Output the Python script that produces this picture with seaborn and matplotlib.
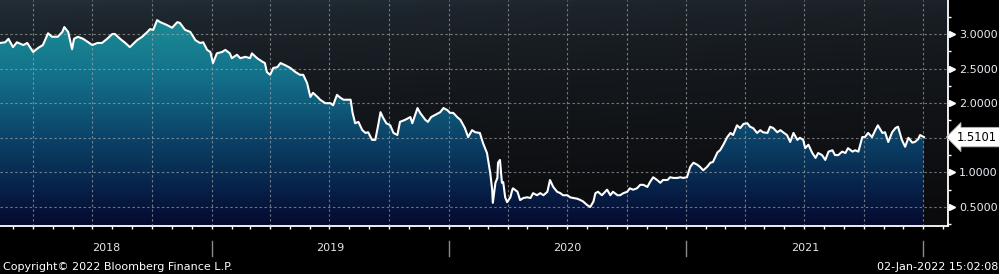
import numpy as np
import pandas as pd
import matplotlib
matplotlib.use("Agg")
import matplotlib.pyplot as plt
import matplotlib.dates as mdates
import matplotlib.transforms as mtransforms
from matplotlib.colors import LinearSegmentedColormap
import seaborn as sns

# ---------------- data (days after 2018-01-01, yield %) ----------------
day_offsets = [
    39, 47, 52, 59, 65, 75, 81, 90, 98, 105, 113, 119, 128, 135, 138, 144, 150, 153, 159, 167,
    175, 181, 189, 196, 204, 212, 216, 224, 232, 239, 250, 258, 266, 270, 275, 281, 286,
    296, 304, 312, 316, 324, 332, 340, 347, 352, 358, 363, 367, 373, 381, 386, 393, 396, 404,
    409, 417, 424, 427, 435, 443, 447, 450, 455, 460, 466, 471, 478, 486, 494, 501, 506, 512,
    517, 521, 528, 532,
    540, 548, 552, 558, 563, 568, 574, 579, 582, 586, 591, 597, 602, 606, 612, 617, 622, 625,
    629, 634, 640, 645, 651, 655, 663, 671, 674, 682, 686, 694, 698, 703, 709, 717, 722, 728,
    732, 737, 743, 748, 755, 760, 766, 771, 778,
    783, 789, 794, 797, 798, 802, 805, 806, 809, 812, 814, 817, 820, 825, 828, 829, 836, 840,
    845, 851, 856, 860, 866, 871, 876, 882, 886, 891, 897, 902, 906, 913, 917, 922, 928, 933,
    937, 943, 948, 953, 956, 960, 966, 971, 974, 979, 983, 990, 994, 999, 1005, 1009, 1014,
    1020, 1025,
    1030, 1036, 1040, 1045, 1051, 1056, 1060, 1067, 1071, 1076, 1082, 1087, 1091, 1097, 1102,
    1107, 1113, 1117, 1122, 1128, 1133, 1137, 1144, 1148, 1153, 1159, 1164, 1168, 1174, 1179,
    1184, 1190, 1194, 1199, 1205, 1210, 1214, 1221, 1225, 1230, 1236, 1241, 1245, 1251, 1256,
    1261, 1267, 1271,
    1276, 1279, 1284, 1290, 1295, 1299, 1305, 1310, 1315, 1321, 1325, 1330, 1336, 1341, 1345,
    1352, 1356, 1361, 1367, 1371, 1376, 1382, 1387, 1391, 1398, 1402, 1407, 1413, 1418, 1422,
    1428, 1433, 1438, 1444, 1448, 1453, 1456, 1462,
]
yields = [
    2.87, 2.88, 2.93, 2.81, 2.88, 2.84, 2.87, 2.74, 2.80, 2.84, 3.01, 2.96, 2.96, 3.03, 3.10, 3.03, 2.78, 2.93, 2.96, 2.93,
    2.88, 2.84, 2.87, 2.87, 2.93, 3.00, 3.00, 2.93, 2.87, 2.81, 2.91, 2.96, 3.03, 3.07, 3.06, 3.20, 3.17,
    3.13, 3.09, 3.17, 3.16, 3.06, 3.03, 2.91, 2.87, 2.88, 2.77, 2.74, 2.58, 2.72, 2.74, 2.77, 2.72, 2.65, 2.70,
    2.65, 2.67, 2.65, 2.72, 2.65, 2.60, 2.58, 2.45, 2.41, 2.51, 2.52, 2.58, 2.55, 2.51, 2.45, 2.41, 2.41, 2.29,
    2.09, 2.15, 2.09, 2.05,
    2.00, 2.00, 1.97, 2.12, 2.08, 2.05, 2.05, 2.05, 1.86, 1.71, 1.73, 1.61, 1.57, 1.58, 1.47, 1.47, 1.71, 1.87,
    1.79, 1.71, 1.68, 1.57, 1.54, 1.73, 1.76, 1.80, 1.71, 1.93, 1.86, 1.76, 1.73, 1.80, 1.83, 1.87, 1.93, 1.90,
    1.86, 1.86, 1.80, 1.76, 1.64, 1.51, 1.61, 1.58, 1.57,
    1.42, 1.28, 0.99, 0.75, 0.56, 0.85, 0.92, 1.14, 1.18, 0.85, 0.86, 0.64, 0.57, 0.64, 0.75, 0.77, 0.72, 0.60,
    0.63, 0.64, 0.63, 0.70, 0.67, 0.70, 0.67, 0.72, 0.89, 0.79, 0.72, 0.70, 0.67, 0.67, 0.64, 0.63, 0.62, 0.60,
    0.58, 0.53, 0.50, 0.58, 0.70, 0.72, 0.67, 0.72, 0.75, 0.67, 0.72, 0.67, 0.67, 0.70, 0.72, 0.77, 0.75,
    0.77, 0.82,
    0.82, 0.79, 0.86, 0.93, 0.89, 0.85, 0.89, 0.89, 0.93, 0.92, 0.92, 0.93, 0.92, 0.93, 1.08,
    1.14, 1.11, 1.08, 1.03, 1.08, 1.14, 1.15, 1.29, 1.32, 1.40, 1.51, 1.57, 1.54, 1.68, 1.64,
    1.70, 1.71, 1.66, 1.64, 1.57, 1.61, 1.58, 1.57, 1.66, 1.64, 1.58, 1.61, 1.58, 1.54, 1.44,
    1.57, 1.47, 1.50,
    1.47, 1.35, 1.40, 1.28, 1.21, 1.28, 1.25, 1.18, 1.30, 1.32, 1.25, 1.25, 1.30, 1.28, 1.35,
    1.30, 1.32, 1.30, 1.51, 1.51, 1.57, 1.51, 1.61, 1.68, 1.57, 1.58, 1.44, 1.58, 1.64, 1.66,
    1.47, 1.37, 1.50, 1.43, 1.44, 1.48, 1.54, 1.5101,
]
last_value = 1.5101
y_ticks = [0.5, 1.0, 1.5, 2.0, 2.5, 3.0]
year_labels = ["2018", "2019", "2020", "2021"]
x_start = pd.Timestamp("2018-02-09")
x_end = pd.Timestamp("2022-02-08")
y_min, y_max = 0.2254, 3.491

base = pd.Timestamp("2018-01-01")
dates = base + pd.to_timedelta(day_offsets, unit="D")
df = pd.DataFrame({"date": dates, "yield": yields})

# ---------------- figure ----------------
plt.rcParams["font.family"] = ["DejaVu Sans"]
W, H = 999, 274
fig = plt.figure(figsize=(W / 100, H / 100), dpi=100)
fig.patch.set_facecolor("black")
pos = [0, 48 / H, 948 / W, 226 / H]

# background gradient axes
bg_ax = fig.add_axes(pos, zorder=0)
bg_ax.axis("off")
ny, nx = 200, 200
t = np.linspace(0, 1, ny)[:, None] ** 0.6
s = np.linspace(0, 1, nx)[None, :]
top_l = np.array([0x24, 0x30, 0x39]) / 255
top_r = np.array([0x1c, 0x23, 0x29]) / 255
bot = np.array([0x0b, 0x0b, 0x0d]) / 255
top = top_l[None, None, :] * (1 - s[..., None]) + top_r[None, None, :] * s[..., None]
bg = top * (1 - t[..., None]) + bot[None, None, :] * t[..., None]
bg_ax.imshow(bg, extent=[0, 1, 0, 1], aspect="auto", origin="upper")
bg_ax.set_xlim(0, 1)
bg_ax.set_ylim(0, 1)

ax = fig.add_axes(pos, zorder=1)
ax.set_facecolor("none")

x0n, x1n = mdates.date2num(x_start), mdates.date2num(x_end)

# gradient fill under the curve
fill_cmap = LinearSegmentedColormap.from_list(
    "fill",
    [(0.0, "#050a2e"), (0.09, "#06153c"), (0.24, "#082b52"), (0.40, "#0b4167"),
     (0.55, "#0f5878"), (0.70, "#13708a"), (0.90, "#198593"), (1.0, "#1a8a96")],
)
poly = ax.fill_between(df["date"], df["yield"], y_min, color="none", lw=0)
grad = np.linspace(0, 1, 256)[:, None]
im = ax.imshow(grad, extent=[x0n, x1n, y_min, 3.3], origin="lower", aspect="auto",
               cmap=fill_cmap, zorder=1)
im.set_clip_path(poly.get_paths()[0], transform=ax.transData)

sns.lineplot(data=df, x="date", y="yield", color="white", linewidth=1.5, ax=ax, zorder=4)

ax.set_xlim(x_start, x_end)
ax.set_ylim(y_min, y_max)
ax.set_xlabel("")
ax.set_ylabel("")

# x axis
ax.xaxis.set_major_locator(mdates.MonthLocator(bymonth=[1, 4, 7, 10]))
ax.xaxis.set_minor_locator(mdates.MonthLocator())
ax.xaxis.set_major_formatter(plt.NullFormatter())
ax.tick_params(axis="x", which="both", direction="out", length=2.5, width=1,
               color="white", labelbottom=False)

# y axis on right (the label next to the last-value tag is hidden, as in the original)
ax.yaxis.tick_right()
ax.set_yticks(y_ticks)
ax.set_yticks(np.arange(0.25, 3.5, 0.25), minor=True)
ax.yaxis.set_major_formatter(
    plt.FuncFormatter(lambda v, p: "" if abs(v - last_value) < 0.12 else f"{v:.4f}"))
ax.tick_params(axis="y", which="major", direction="out", length=4, width=1,
               color="white", labelcolor="#e8eef4", labelsize=8, pad=4)
ax.tick_params(axis="y", which="minor", direction="out", length=2.5, width=1,
               color="white")
tr_y = mtransforms.blended_transform_factory(ax.transAxes, ax.transData)
marker_ticks = [v for v in y_ticks if abs(v - last_value) >= 0.12]
ax.plot([1.0045] * len(marker_ticks), marker_ticks, ls="none", marker=">", ms=4,
        color="white", transform=tr_y, clip_on=False, zorder=6)

for side in ["left", "top"]:
    ax.spines[side].set_visible(False)
for side in ["right", "bottom"]:
    ax.spines[side].set_color("white")
    ax.spines[side].set_linewidth(1.3)

# grid
ax.grid(True, which="major", axis="both", color="#a8a8a8", alpha=0.65,
        linestyle=(0, (2.2, 2.2)), linewidth=0.8, zorder=3)
ax.set_axisbelow(False)
for gl in ax.get_xgridlines() + ax.get_ygridlines():
    gl.set_zorder(3)

# year separators and labels
tr_x = mtransforms.blended_transform_factory(ax.transData, ax.transAxes)
year_starts = [pd.Timestamp(f"{y}-01-01") for y in [2019, 2020, 2021, 2022]]
for ys in year_starts:
    ax.plot([ys, ys], [-0.066, -0.133], color="#8a8a8a", lw=1.0,
            transform=tr_x, clip_on=False)
bounds = [x_start] + year_starts
for i, lab in enumerate(year_labels):
    a, b = bounds[i], bounds[i + 1]
    mid = a + (b - a) / 2
    ax.text(mid, -0.097, lab, transform=tr_x, ha="center", va="center",
            color="#e6e6e6", fontsize=8)

# last value tag
ax.text(1.0095, last_value, f"{last_value:.4f}", transform=tr_y, ha="left", va="center",
        color="black", fontsize=8.3, zorder=7, clip_on=False,
        bbox=dict(boxstyle="larrow,pad=0.28", facecolor="white", edgecolor="#b0b0b0", lw=0.6))

fig.text(3 / W, (H - 267) / H, "Copyright\u00a9 2022 Bloomberg Finance L.P.",
         ha="left", va="center", color="white", fontsize=8)
fig.text(998 / W, (H - 267) / H, "02-Jan-2022 15:02:08",
         ha="right", va="center", color="white", fontsize=8)

fig.savefig("out.png", dpi=100, facecolor="black")
